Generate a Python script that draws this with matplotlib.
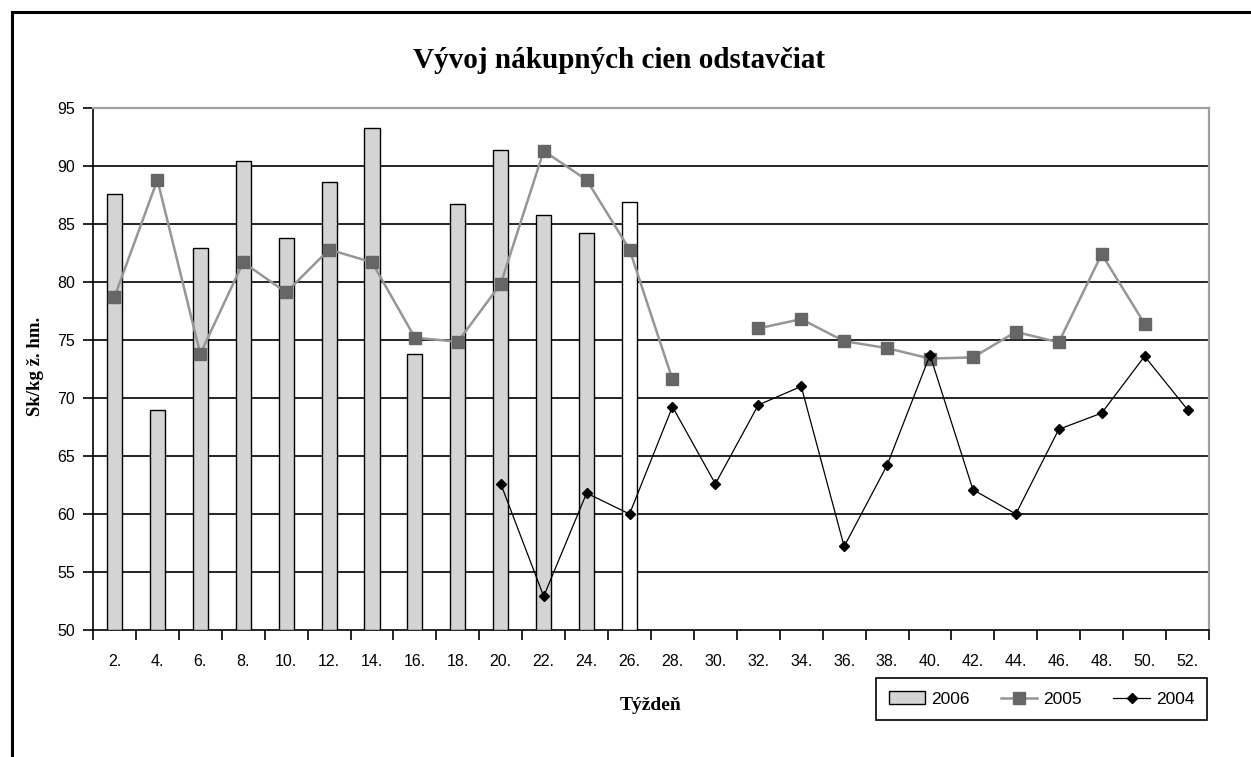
import numpy as np
import matplotlib
matplotlib.use("Agg")
import matplotlib.pyplot as plt
from matplotlib.patches import Rectangle
from matplotlib.lines import Line2D

weeks = ["2.", "4.", "6.", "8.", "10.", "12.", "14.", "16.", "18.", "20.", "22.", "24.", "26.",
         "28.", "30.", "32.", "34.", "36.", "38.", "40.", "42.", "44.", "46.", "48.", "50.", "52."]
nan = np.nan
s2006 = [87.6, 69.0, 82.9, 90.4, 83.8, 88.6, 93.3, 73.8, 86.7, 91.4, 85.8, 84.2, 86.9]
s2005 = [78.7, 88.8, 73.8, 81.7, 79.1, 82.8, 81.7, 75.2, 74.85, 79.85, 91.3, 88.8, 82.8,
         71.6, nan, 76.0, 76.8, 74.9, 74.3, 73.4, 73.5, 75.7, 74.8, 82.4, 76.4, nan]
s2004 = [nan, nan, nan, nan, nan, nan, nan, nan, nan, 62.6, 52.9, 61.8, 60.0,
         69.25, 62.6, 69.4, 71.0, 57.2, 64.2, 73.7, 62.1, 60.0, 67.3, 68.7, 73.6, 69.0]
yticks = [50, 55, 60, 65, 70, 75, 80, 85, 90, 95]

W, H = 1251, 757
fig = plt.figure(figsize=(W / 100, H / 100), dpi=100)
fig.patch.set_facecolor("white")

# outer frame (cropped at right/bottom)
fig.add_artist(Line2D([12 / W, 12 / W], [0, 1 - 12 / H], color="black", lw=2.2, transform=fig.transFigure))
fig.add_artist(Line2D([12 / W, 1], [1 - 12 / H, 1 - 12 / H], color="black", lw=2.2, transform=fig.transFigure))

left, right, top, bottom = 93, 1209, 108, 630
ax = fig.add_axes([left / W, 1 - bottom / H, (right - left) / W, (bottom - top) / H])

x = np.arange(len(weeks))
bar_colors = ["#d4d4d4"] * (len(s2006) - 1) + ["white"]
ax.bar(x[:len(s2006)], np.array(s2006) - 50, bottom=50, width=0.35, color=bar_colors,
       edgecolor="black", linewidth=1.0, zorder=3)
ax.plot(x, s2005, color="#969696", lw=1.8, marker="s", markersize=8,
        markerfacecolor="#666666", markeredgecolor="#666666", zorder=4)
ax.plot(x, s2004, color="black", lw=0.9, marker="D", markersize=4.6,
        markerfacecolor="black", markeredgecolor="black", zorder=5)

ax.set_xlim(-0.5, len(weeks) - 0.5)
ax.set_ylim(50, 95)
ax.set_yticks(yticks)
ax.set_yticklabels([str(v) for v in yticks])
for v in yticks[1:-1]:
    ax.axhline(v, color="black", lw=1.2, zorder=1)

ax.set_xticks(np.arange(-0.5, len(weeks)), minor=False)
ax.set_xticklabels([])
ax.set_xticks(x, minor=True)
ax.set_xticklabels(weeks, minor=True)
ax.tick_params(axis="x", which="major", direction="out", length=7, width=1.2, color="black")
ax.tick_params(axis="x", which="minor", length=0, pad=17, labelsize=11.5)
ax.tick_params(axis="y", direction="out", length=7, width=1.2, labelsize=11.5, pad=6)
for lab in ax.get_xticklabels(minor=True) + ax.get_yticklabels():
    lab.set_fontfamily("Liberation Sans")

ax.spines["left"].set_color("black")
ax.spines["bottom"].set_color("black")
ax.spines["left"].set_linewidth(1.2)
ax.spines["bottom"].set_linewidth(1.2)
ax.spines["top"].set_color("#a0a0a0")
ax.spines["right"].set_color("#a0a0a0")
ax.spines["top"].set_linewidth(1.6)
ax.spines["right"].set_linewidth(1.6)

fig.text(619 / W, 1 - 68 / H, "Vývoj nákupných cien odstavčiat", ha="center", va="baseline",
         fontfamily="Liberation Serif", fontweight="bold", fontsize=21)
fig.text(36 / W, 1 - 366 / H, "Sk/kg ž. hm.", ha="center", va="center", rotation=90,
         fontfamily="Liberation Serif", fontweight="bold", fontsize=13.5)
fig.text(651 / W, 1 - 710 / H, "Týždeň", ha="center", va="baseline",
         fontfamily="Liberation Serif", fontweight="bold", fontsize=14)

handles = [
    Rectangle((0, 0), 1, 1, facecolor="#d4d4d4", edgecolor="black", lw=1.0),
    Line2D([], [], color="#969696", lw=1.8, marker="s", markersize=8,
           markerfacecolor="#666666", markeredgecolor="#666666"),
    Line2D([], [], color="black", lw=0.9, marker="D", markersize=4.6,
           markerfacecolor="black", markeredgecolor="black"),
]
leg = fig.legend(handles, ["2006", "2005", "2004"], loc="center",
                 bbox_to_anchor=(1041.5 / W, 1 - 699 / H), ncol=3, frameon=True, fancybox=False,
                 edgecolor="black", framealpha=1, borderpad=0.75, handlelength=2.1,
                 handletextpad=0.35, columnspacing=1.8, borderaxespad=0,
                 prop={"family": "Liberation Sans", "size": 12.5})
leg.get_frame().set_linewidth(1.2)

fig.savefig("out.png", dpi=100, facecolor="white")
